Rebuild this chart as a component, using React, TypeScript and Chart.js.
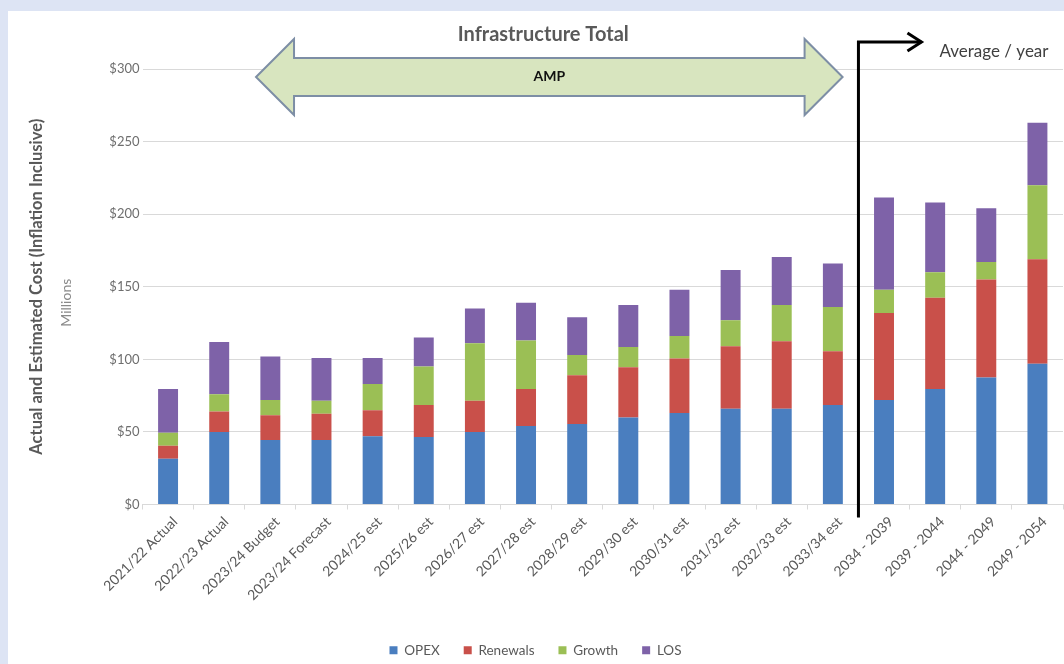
import React, { useEffect, useRef } from "react";
import { Chart, registerables } from "chart.js";

Chart.register(...registerables);

const categories = [
  "2021/22 Actual",
  "2022/23 Actual",
  "2023/24 Budget",
  "2023/24 Forecast",
  "2024/25 est",
  "2025/26 est",
  "2026/27 est",
  "2027/28 est",
  "2028/29 est",
  "2029/30 est",
  "2030/31 est",
  "2031/32 est",
  "2032/33 est",
  "2033/34 est",
  "2034 - 2039",
  "2039 - 2044",
  "2044 - 2049",
  "2049 - 2054",
];

const opex = [31.5, 50, 44.5, 44.5, 47, 46.5, 50, 54, 55.5, 60, 63, 66, 66, 68.5, 72, 79.5, 87.5, 97];
const renewals = [9, 14, 17, 18, 18, 22, 21.5, 25.5, 33.5, 34.5, 37.5, 43, 46.5, 37, 60, 63, 67.5, 72];
const growth = [9, 12, 10.5, 9, 18, 26.5, 39.5, 33.5, 14, 14, 15.5, 18, 25, 30.5, 16, 17.5, 12, 51];
const los = [30, 36, 30, 29.5, 18, 20, 24, 26, 26, 29, 32, 34.5, 33, 30, 63.5, 48, 37, 43];

const seriesNames = ["OPEX", "Renewals", "Growth", "LOS"];
const seriesColors = ["#4a7ebf", "#c9504a", "#9bbf55", "#7e62a8"];

const yMin = 0;
const yMax = 300;
const yStep = 50;

const titleText = "Infrastructure Total";
const arrowText = "AMP";
const averageText = "Average / year";
const yTitleText = "Actual and Estimated Cost (Inflation Inclusive)";
const yUnitText = "Millions";

const FONT = "Lato, 'Open Sans', sans-serif";

const overlayPlugin = {
  id: "overlay",
  afterDraw(chart: any) {
    const { ctx, chartArea, scales } = chart;
    const xs = scales.x;
    ctx.save();

    // Y axis titles
    const midY = (chartArea.top + chartArea.bottom) / 2;
    ctx.save();
    ctx.translate(29, midY);
    ctx.rotate(-Math.PI / 2);
    ctx.fillStyle = "#595959";
    ctx.font = `bold 16.5px ${FONT}`;
    ctx.textAlign = "center";
    ctx.textBaseline = "middle";
    ctx.fillText(yTitleText, 0, 0);
    ctx.restore();

    ctx.save();
    ctx.translate(58, midY + 16);
    ctx.rotate(-Math.PI / 2);
    ctx.fillStyle = "#8a8a8a";
    ctx.font = `14px ${FONT}`;
    ctx.textAlign = "center";
    ctx.textBaseline = "middle";
    ctx.fillText(yUnitText, 0, 0);
    ctx.restore();

    // Double-headed AMP arrow
    const leftTip = xs.getPixelForValue(1.72);
    const rightTip = xs.getPixelForValue(13.19);
    const headLen = 38;
    const cy = chartArea.top + 8;
    const shaftH = 19;
    const headH = 38;
    ctx.beginPath();
    ctx.moveTo(leftTip, cy);
    ctx.lineTo(leftTip + headLen, cy - headH);
    ctx.lineTo(leftTip + headLen, cy - shaftH);
    ctx.lineTo(rightTip - headLen, cy - shaftH);
    ctx.lineTo(rightTip - headLen, cy - headH);
    ctx.lineTo(rightTip, cy);
    ctx.lineTo(rightTip - headLen, cy + headH);
    ctx.lineTo(rightTip - headLen, cy + shaftH);
    ctx.lineTo(leftTip + headLen, cy + shaftH);
    ctx.lineTo(leftTip + headLen, cy + headH);
    ctx.closePath();
    ctx.fillStyle = "#d8e5bf";
    ctx.fill();
    ctx.strokeStyle = "#7d8ea5";
    ctx.lineWidth = 2;
    ctx.lineJoin = "miter";
    ctx.stroke();

    const arrowMid = (leftTip + rightTip) / 2;
    ctx.fillStyle = "#111111";
    ctx.font = `bold 14px ${FONT}`;
    ctx.textAlign = "center";
    ctx.textBaseline = "middle";
    ctx.fillText(arrowText, arrowMid, cy - 1);

    ctx.fillStyle = "#595959";
    ctx.font = `bold 20px ${FONT}`;
    ctx.fillText(titleText, arrowMid - 6, chartArea.top - 34);

    // Black step arrow
    const lineX = (xs.getPixelForValue(13) + xs.getPixelForValue(14)) / 2;
    const topY = chartArea.top - 27;
    const botY = chartArea.bottom + 13;
    const endX = lineX + 63;
    ctx.beginPath();
    ctx.moveTo(lineX, botY);
    ctx.lineTo(lineX, topY);
    ctx.lineTo(endX, topY);
    ctx.strokeStyle = "#000000";
    ctx.lineWidth = 3;
    ctx.lineJoin = "miter";
    ctx.stroke();
    ctx.beginPath();
    ctx.moveTo(endX - 14, topY - 9);
    ctx.lineTo(endX, topY);
    ctx.lineTo(endX - 14, topY + 9);
    ctx.lineWidth = 3;
    ctx.stroke();

    ctx.fillStyle = "#404040";
    ctx.font = `17px ${FONT}`;
    ctx.textAlign = "left";
    ctx.textBaseline = "middle";
    ctx.fillText(averageText, lineX + 81, topY + 10);

    ctx.restore();
  },
};

export default function App() {
  const canvasRef = useRef<HTMLCanvasElement | null>(null);

  useEffect(() => {
    const canvas = canvasRef.current;
    if (!canvas) return;
    const seriesData = [opex, renewals, growth, los];
    const chart = new Chart(canvas, {
      type: "bar",
      data: {
        labels: categories,
        datasets: seriesNames.map((name, i) => ({
          label: name,
          data: seriesData[i],
          backgroundColor: seriesColors[i],
          borderWidth: 0,
          stack: "total",
          barPercentage: 0.39,
          categoryPercentage: 1.0,
        })),
      },
      options: {
        responsive: false,
        animation: false,
        devicePixelRatio: 1,
        layout: { padding: { top: 58, right: 1, left: 0, bottom: 0 } },
        plugins: {
          tooltip: { enabled: false },
          title: { display: false },
          legend: {
            display: true,
            position: "bottom",
            labels: {
              boxWidth: 8,
              boxHeight: 8,
              padding: 24,
              color: "#595959",
              font: { family: FONT, size: 13.5 },
            },
          },
        },
        scales: {
          x: {
            stacked: true,
            afterFit: (scale: any) => {
              scale.height = 115;
            },
            grid: {
              display: true,
              drawOnChartArea: false,
              drawTicks: true,
              tickLength: 5,
              color: "#d9d9d9",
            },
            border: { display: true, color: "#d9d9d9", width: 1 },
            ticks: {
              color: "#595959",
              font: { family: FONT, size: 14 },
              minRotation: 45,
              maxRotation: 45,
              autoSkip: false,
              padding: 4,
              labelOffset: 7,
            },
          },
          y: {
            stacked: true,
            min: yMin,
            max: yMax,
            afterFit: (scale: any) => {
              scale.width = 134.5;
            },
            grid: { color: "#d9d9d9", drawTicks: false },
            border: { display: false },
            ticks: {
              stepSize: yStep,
              padding: 3,
              color: "#6e6e6e",
              font: { family: FONT, size: 13 },
              callback: (v: any) => "$" + v,
            },
          },
        },
      },
      plugins: [overlayPlugin],
    });
    return () => chart.destroy();
  }, []);

  return (
    <div
      style={{
        position: "fixed",
        left: 0,
        top: 0,
        width: 1064,
        height: 664,
        background: "#dde4f4",
        overflow: "hidden",
      }}
    >
      <div
        style={{
          position: "absolute",
          left: 8,
          top: 11,
          width: 1056,
          height: 656,
          background: "#ffffff",
        }}
      >
        <canvas ref={canvasRef} width={1056} height={656} style={{ display: "block" }} />
      </div>
    </div>
  );
}
